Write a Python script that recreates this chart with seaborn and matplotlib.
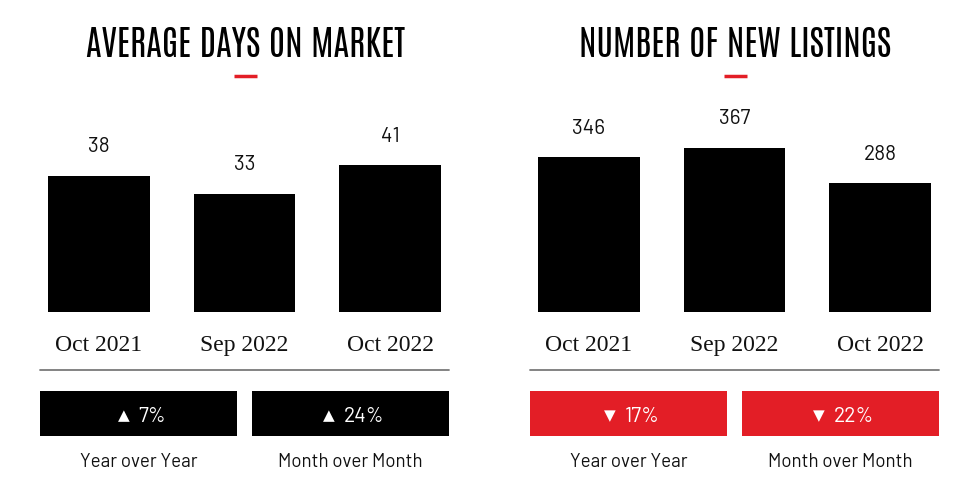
import matplotlib
matplotlib.use("Agg")
import matplotlib.pyplot as plt
from matplotlib.patches import Rectangle
from matplotlib.lines import Line2D
import seaborn as sns

# Data
months = ["Oct 2021", "Sep 2022", "Oct 2022"]
days_on_market = [38, 33, 41]
new_listings = [346, 367, 288]
titles = ["AVERAGE DAYS ON MARKET", "NUMBER OF NEW LISTINGS"]
yoy_change = ["7%", "17%"]
mom_change = ["24%", "22%"]
direction = ["up", "down"]
change_labels = ["Year over Year", "Month over Month"]

RED = "#e31e26"
W, H = 980, 490

sns.set_theme(style="white")
plt.rcParams["font.family"] = ["Barlow", "DejaVu Sans"]

fig = plt.figure(figsize=(W / 100, H / 100), dpi=100, facecolor="white")


def fx(px):
    return px / W


def fy(py):
    # py measured from the top
    return 1 - py / H


panels = [
    (days_on_market, 26, 3.58),
    (new_listings, 516, 0.447),
]

for k, (values, left_px, px_per_unit) in enumerate(panels):
    ax = fig.add_axes([fx(left_px), 178 / H, fx(437), 200 / H])
    sns.barplot(x=months, y=values, color="black", saturation=1, width=0.7,
                linewidth=0, ax=ax)
    ax.set_xlim(-0.5, 2.5)
    ax.set_ylim(0, 200 / px_per_unit)
    for i, v in enumerate(values):
        ax.annotate(str(v), (i, v), xytext=(0, 29), textcoords="offset pixels",
                    ha="center", va="center", fontsize=15, color="#111111")
    ax.tick_params(axis="x", length=0, pad=16.5)
    ax.set_yticks([])
    for lbl in ax.get_xticklabels():
        lbl.set_fontfamily("Liberation Serif")
        lbl.set_fontsize(17)
        lbl.set_color("#111111")
    sns.despine(ax=ax, left=True, bottom=True)

    # title and red dash
    cx = left_px + 219
    fig.text(fx(cx), fy(44), titles[k], ha="center", va="center",
             fontsize=25.5, family="Antonio", fontweight="light", color="black")
    fig.add_artist(Line2D([fx(cx - 11), fx(cx + 12)], [fy(76), fy(76)],
                          color=RED, lw=2.5, solid_capstyle="butt"))

    # separator line
    x0 = left_px + 14
    fig.add_artist(Line2D([fx(x0), fx(x0 + 409)], [fy(370), fy(370)],
                          color="#7a7a7a", lw=1.3))

    # change boxes
    box_color = "black" if direction[k] == "up" else RED
    arrow = "\u25b2" if direction[k] == "up" else "\u25bc"
    for j, pct in enumerate([yoy_change[k], mom_change[k]]):
        bx = x0 + j * 212
        fig.add_artist(Rectangle((fx(bx), fy(436)), fx(197), 45 / H,
                                 facecolor=box_color, edgecolor="none"))
        bc = bx + 98.5
        t = fig.text(fx(bc + 13.5), fy(416), pct, ha="center", va="center",
                     fontsize=15, color="white")
        # arrow placed just left of the percentage
        fig.add_artist(matplotlib.text.Annotation(
            arrow, xy=(0, 0.5), xycoords=t, xytext=(-9, 0),
            textcoords="offset pixels", ha="right", va="center",
            fontsize=11, color="white", family="DejaVu Sans"))
        fig.text(fx(bc), fy(462), change_labels[j], ha="center", va="center",
                 fontsize=13.5, color="#111111")

fig.savefig("out.png", dpi=100, facecolor="white")
